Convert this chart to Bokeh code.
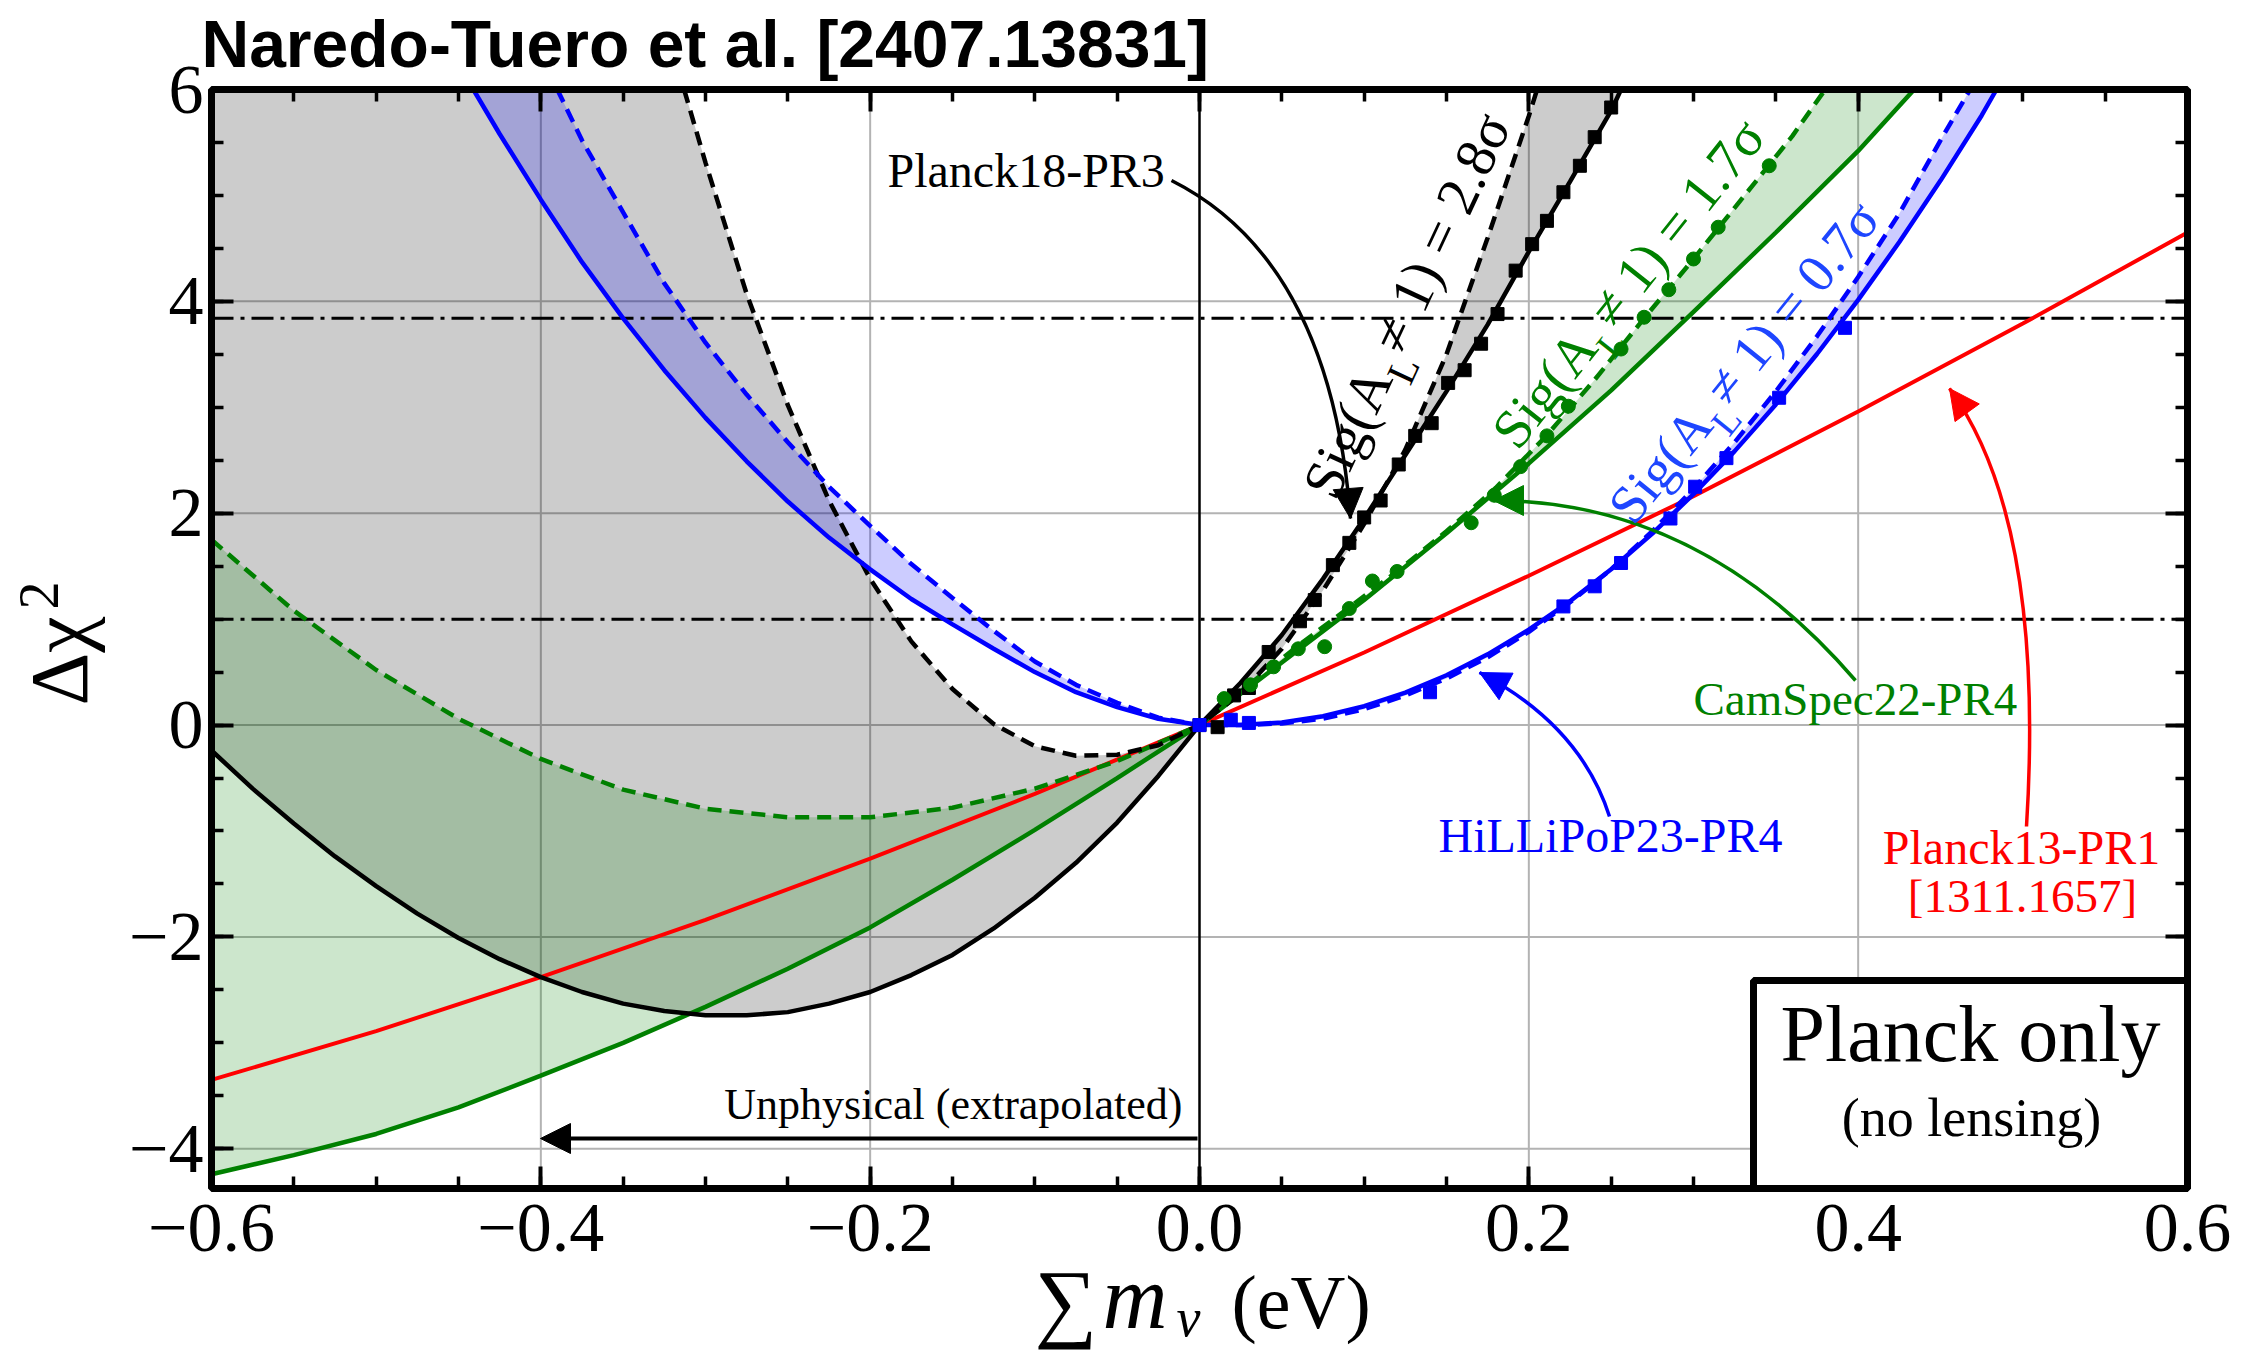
import math
from bokeh.plotting import figure
from bokeh.models import (Range1d, LinearAxis, FixedTicker, Label,
                          BoxAnnotation, Arrow, NormalHead)
from bokeh.embed import file_html
from bokeh.resources import INLINE

# ------------------------------------------------------------------ data
# Planck18-PR3 (black): solid = A_L = 1, dashed = A_L free
blk_sol_x = [-0.600, -0.575, -0.550, -0.525, -0.500, -0.475, -0.450, -0.425, -0.400, -0.375,
             -0.350, -0.325, -0.300, -0.275, -0.250, -0.225, -0.200, -0.175, -0.150, -0.125,
             -0.100, -0.075, -0.050, -0.025, 0.0, 0.025, 0.05, 0.075, 0.10, 0.125, 0.15,
             0.175, 0.20, 0.225, 0.25, 0.256]
blk_sol_y = [-0.24, -0.60, -0.93, -1.24, -1.52, -1.78, -2.01, -2.21, -2.38, -2.52,
             -2.63, -2.70, -2.74, -2.74, -2.71, -2.63, -2.52, -2.36, -2.17, -1.92,
             -1.63, -1.30, -0.92, -0.48, 0.0, 0.40, 0.85, 1.38, 1.95, 2.55, 3.15,
             3.78, 4.47, 5.13, 5.80, 6.0]
blk_dash_x = [-0.313, -0.300, -0.275, -0.250, -0.225, -0.200, -0.175, -0.150, -0.125, -0.100,
              -0.075, -0.050, -0.025, 0.0, 0.025, 0.05, 0.075, 0.10, 0.125, 0.15, 0.175,
              0.20, 0.205]
blk_dash_y = [6.0, 5.31, 4.07, 3.02, 2.12, 1.38, 0.79, 0.34, 0.01, -0.20,
              -0.29, -0.28, -0.19, 0.0, 0.30, 0.72, 1.27, 1.90, 2.60, 3.50, 4.60,
              5.75, 6.0]
blk_pts_x = [0.0, 0.011, 0.021, 0.030, 0.042, 0.061, 0.070, 0.081, 0.091, 0.100, 0.110,
             0.121, 0.131, 0.141, 0.151, 0.161, 0.171, 0.181, 0.192, 0.202, 0.211,
             0.221, 0.231, 0.240, 0.250]
blk_pts_y = [0.0, -0.02, 0.28, 0.35, 0.69, 0.98, 1.18, 1.51, 1.72, 1.96, 2.12,
             2.46, 2.73, 2.85, 3.23, 3.35, 3.60, 3.88, 4.29, 4.54, 4.76,
             5.03, 5.28, 5.55, 5.83]

# HiLLiPoP23-PR4 (blue)
blu_sol_x = [-0.441, -0.425, -0.400, -0.375, -0.350, -0.325, -0.300, -0.275, -0.250, -0.225,
             -0.200, -0.175, -0.150, -0.125, -0.100, -0.075, -0.050, -0.025, 0.0, 0.025,
             0.050, 0.075, 0.100, 0.125, 0.150, 0.175, 0.200, 0.225, 0.250, 0.275, 0.300,
             0.325, 0.350, 0.375, 0.400, 0.425, 0.450, 0.475, 0.484]
blu_sol_y = [6.0, 5.58, 4.96, 4.37, 3.84, 3.35, 2.90, 2.49, 2.11, 1.77,
             1.47, 1.19, 0.95, 0.72, 0.50, 0.31, 0.17, 0.06, 0.0, 0.0,
             0.025, 0.084, 0.178, 0.306, 0.470, 0.668, 0.901, 1.168, 1.471, 1.808, 2.180,
             2.586, 3.027, 3.503, 4.014, 4.560, 5.140, 5.755, 6.0]
blu_dash_x = [-0.390, -0.375, -0.350, -0.325, -0.300, -0.275, -0.250, -0.225, -0.200, -0.175,
              -0.150, -0.125, -0.100, -0.075, -0.050, -0.025, 0.0, 0.025, 0.050, 0.075,
              0.100, 0.125, 0.150, 0.175, 0.200, 0.225, 0.250, 0.275, 0.300, 0.325, 0.350,
              0.375, 0.400, 0.425, 0.450, 0.468]
blu_dash_y = [6.0, 5.52, 4.84, 4.17, 3.61, 3.12, 2.67, 2.25, 1.88, 1.52,
              1.20, 0.89, 0.60, 0.38, 0.21, 0.07, 0.0, 0.0, 0.015, 0.06,
              0.15, 0.28, 0.44, 0.64, 0.88, 1.16, 1.47, 1.83, 2.23, 2.67, 3.15,
              3.67, 4.23, 4.83, 5.52, 6.0]
blu_pts_x = [0.0, 0.019, 0.030, 0.140, 0.221, 0.240, 0.256, 0.286, 0.301, 0.320, 0.352, 0.392]
blu_pts_y = [0.0, 0.05, 0.02, 0.31, 1.12, 1.31, 1.53, 1.95, 2.25, 2.52, 3.09, 3.75]

# CamSpec22-PR4 (green)
grn_sol_x = [-0.60, -0.55, -0.50, -0.45, -0.40, -0.35, -0.30, -0.25, -0.20, -0.15, -0.10,
             -0.05, 0.0, 0.05, 0.10, 0.15, 0.20, 0.25, 0.30, 0.35, 0.40, 0.434]
grn_sol_y = [-4.24, -4.06, -3.86, -3.61, -3.31, -3.00, -2.66, -2.30, -1.91, -1.46, -0.99,
             -0.50, 0.0, 0.59, 1.18, 1.81, 2.47, 3.16, 3.90, 4.65, 5.42, 6.0]
grn_dash_x = [-0.60, -0.55, -0.50, -0.45, -0.40, -0.35, -0.30, -0.25, -0.20, -0.15, -0.10,
              -0.05, 0.0, 0.03, 0.06, 0.09, 0.12, 0.15, 0.18, 0.21, 0.24, 0.27, 0.30,
              0.33, 0.36, 0.38]
grn_dash_y = [1.75, 1.08, 0.52, 0.06, -0.32, -0.61, -0.79, -0.87, -0.87, -0.78, -0.60,
              -0.34, 0.0, 0.38, 0.75, 1.10, 1.45, 1.83, 2.24, 2.72, 3.26, 3.84, 4.40,
              4.98, 5.56, 6.0]
grn_pts_x = [0.015, 0.031, 0.045, 0.060, 0.076, 0.091, 0.105, 0.120, 0.165, 0.179, 0.195,
             0.211, 0.224, 0.256, 0.270, 0.285, 0.300, 0.315, 0.346]
grn_pts_y = [0.25, 0.38, 0.55, 0.72, 0.74, 1.10, 1.36, 1.45, 1.91, 2.17, 2.44,
             2.73, 3.01, 3.55, 3.85, 4.11, 4.40, 4.70, 5.28]

# Planck13-PR1 (red)
red_x = [-0.6, -0.5, -0.4, -0.3, -0.2, -0.1, 0.0, 0.1, 0.2, 0.3, 0.4, 0.5, 0.6]
red_y = [-3.35, -2.89, -2.38, -1.84, -1.26, -0.65, 0.0, 0.685, 1.41, 2.16, 2.96, 3.79, 4.65]

# reference levels (Delta chi^2 = 1 and 3.84)
cl_levels = [1.0, 3.84]

x_ticks = [-0.6, -0.4, -0.2, 0.0, 0.2, 0.4, 0.6]
x_tick_labels = ["\u22120.6", "\u22120.4", "\u22120.2", "0.0", "0.2", "0.4", "0.6"]
y_ticks = [-4, -2, 0, 2, 4, 6]
y_tick_labels = ["\u22124", "\u22122", "0", "2", "4", "6"]
x_grid = [-0.4, -0.2, 0.2, 0.4]
y_grid = [-4, -2, 0, 2, 4]
x_minor = [round(-0.6 + 0.05 * i, 2) for i in range(25)]
y_minor = [-4.0 + 0.5 * i for i in range(21)]

# ------------------------------------------------------------------ layout
W, H = 2249, 1353
FL, FR, FT, FB = 211, 2187, 89, 1188          # inner plot box in canvas pixels
XMIN, XMAX, YMIN, YMAX = -0.6, 0.6, -4.375, 6.0
SX = (FR - FL) / (XMAX - XMIN)
SY = (FB - FT) / (YMAX - YMIN)
XS, XE = XMIN - FL / SX, XMAX + (W - FR) / SX
YS, YE = YMIN - (H - FB) / SY, YMAX + FT / SY


def dx(px):
    return XS + px / SX


def dy(py):
    return YE - py / SY


SERIF = "Liberation Serif"
BLACK, BLUE, GREEN, RED = "#000000", "#0000ff", "#008000", "#ff0000"

p = figure(width=W, height=H, x_range=Range1d(XS, XE), y_range=Range1d(YS, YE),
           output_backend="svg", toolbar_location=None, title=None,
           min_border_left=0, min_border_right=0, min_border_top=0, min_border_bottom=0)
p.background_fill_color = "white"
p.border_fill_color = "white"
p.outline_line_color = None
p.xgrid.visible = False
p.ygrid.visible = False


def style_axis(ax, ticks, minor, labels, loc, bounds):
    ax.fixed_location = loc
    ax.bounds = bounds
    ax.ticker = FixedTicker(ticks=ticks, minor_ticks=minor)
    ax.axis_line_color = None
    ax.major_tick_in = 22
    ax.major_tick_out = 0
    ax.minor_tick_in = 12
    ax.minor_tick_out = 0
    ax.major_tick_line_width = 4
    ax.minor_tick_line_width = 3.5
    ax.major_tick_line_color = "black"
    ax.minor_tick_line_color = "black"
    ax.major_label_overrides = {t: l for t, l in zip(ticks, labels)}
    ax.major_label_text_font = SERIF
    ax.major_label_text_font_size = "70px"
    ax.major_label_text_color = "black"


style_axis(p.below[0], x_ticks, x_minor, x_tick_labels, YMIN, (XMIN, XMAX))
p.below[0].major_label_standoff = 16
style_axis(p.left[0], y_ticks, y_minor, y_tick_labels, XMIN, (YMIN, YMAX))
p.left[0].major_label_standoff = 8

top_ax = LinearAxis()
p.add_layout(top_ax, "above")
style_axis(top_ax, x_ticks, x_minor, ["" for _ in x_ticks], YMAX, (XMIN, XMAX))
right_ax = LinearAxis()
p.add_layout(right_ax, "right")
style_axis(right_ax, y_ticks, y_minor, ["" for _ in y_ticks], XMAX, (YMIN, YMAX))

# grid lines
p.segment(x0=x_grid, y0=[YMIN] * len(x_grid), x1=x_grid, y1=[YMAX] * len(x_grid),
          line_color="#b3b3b3", line_width=2)
p.segment(x0=[XMIN] * len(y_grid), y0=y_grid, x1=[XMAX] * len(y_grid), y1=y_grid,
          line_color="#b3b3b3", line_width=2)

# ------------------------------------------------------------------ bands
gray_x = [XMIN] + blk_sol_x + blk_dash_x[::-1] + [XMIN]
gray_y = [blk_sol_y[0]] + blk_sol_y + blk_dash_y[::-1] + [YMAX]
p.patch(gray_x, gray_y, fill_color=BLACK, fill_alpha=0.2, line_color=None)
p.patch(blu_sol_x + blu_dash_x[::-1], blu_sol_y + blu_dash_y[::-1],
        fill_color=BLUE, fill_alpha=0.2, line_color=None)
p.patch(grn_sol_x + grn_dash_x[::-1], grn_sol_y + grn_dash_y[::-1],
        fill_color=GREEN, fill_alpha=0.2, line_color=None)

# ------------------------------------------------------------------ reference lines
p.segment(x0=[0.0], y0=[YMIN], x1=[0.0], y1=[YMAX], line_color="black", line_width=2.5)
p.segment(x0=[XMIN] * len(cl_levels), y0=cl_levels, x1=[XMAX] * len(cl_levels), y1=cl_levels,
          line_color="black", line_width=3, line_dash="22 7 4 7")

# ------------------------------------------------------------------ curves
LW = 4.5
DASH = "14 8"
p.line(red_x, red_y, line_color=RED, line_width=4)
p.line(grn_sol_x, grn_sol_y, line_color=GREEN, line_width=LW)
p.line(grn_dash_x, grn_dash_y, line_color=GREEN, line_width=LW, line_dash=DASH)
p.line(blk_sol_x, blk_sol_y, line_color=BLACK, line_width=LW)
p.line(blk_dash_x, blk_dash_y, line_color=BLACK, line_width=LW, line_dash=DASH)
p.line(blu_sol_x, blu_sol_y, line_color=BLUE, line_width=LW)
p.line(blu_dash_x, blu_dash_y, line_color=BLUE, line_width=LW, line_dash=DASH)

p.scatter(blk_pts_x, blk_pts_y, marker="square", size=13, fill_color=BLACK, line_color=BLACK)
p.scatter(grn_pts_x, grn_pts_y, marker="circle", size=14, fill_color=GREEN, line_color=GREEN)
p.scatter(blu_pts_x, blu_pts_y, marker="square", size=13, fill_color=BLUE, line_color=BLUE)

# frame box
p.add_layout(BoxAnnotation(left=XMIN, right=XMAX, bottom=YMIN, top=YMAX, fill_alpha=0.0,
                           fill_color=None, line_color="black", line_alpha=1.0,
                           line_width=7))

# ------------------------------------------------------------------ annotations
BASE_SHIFT = 0.35   # svg text sits lower than the alphabetic baseline; compensate


def label(px, py, text, size, color="black", align="left", font=SERIF, style="normal",
          angle=0.0):
    px = px - BASE_SHIFT * size * math.sin(angle)
    py = py - BASE_SHIFT * size * math.cos(angle)
    p.add_layout(Label(x=dx(px), y=dy(py), text=text, text_font=font,
                       text_font_size=f"{size}px", text_color=color, text_align=align,
                       text_baseline="alphabetic", text_font_style=style, angle=angle))


def curved_arrow(p0, c, p2, color, lw=3.5):
    p.quadratic(x0=[dx(p0[0])], y0=[dy(p0[1])], x1=[dx(p2[0])], y1=[dy(p2[1])],
                cx=[dx(c[0])], cy=[dy(c[1])], line_color=color, line_width=lw)
    vx, vy = p2[0] - c[0], p2[1] - c[1]
    n = math.hypot(vx, vy)
    sx, sy = p2[0] - 10 * vx / n, p2[1] - 10 * vy / n
    p.add_layout(Arrow(end=NormalHead(size=30, fill_color=color, line_color=color,
                                      line_width=1),
                       x_start=dx(sx), y_start=dy(sy), x_end=dx(p2[0]), y_end=dy(p2[1]),
                       line_color=color, line_width=lw))


WID = {'S': 0.556, 'i': 0.278, 'g': 0.5, '(': 0.333, 'A': 0.722, 'L': 0.611, ' ': 0.25,
       '\u2260': 0.564, '1': 0.5, ')': 0.333, '=': 0.564, '2': 0.5, '.': 0.25, '8': 0.5,
       '7': 0.5, '0': 0.5, '\u03c3': 0.55}


def tw(s, size):
    return sum(WID.get(ch, 0.5) for ch in s) * size


def sig_label(x0, y0, ang_deg, value, color, size=55):
    th = math.radians(ang_deg)
    c, s = math.cos(th), math.sin(th)
    sub = round(size * 0.7)
    pieces = [("Sig(A", size, 0.0), ("L", sub, 0.22 * size),
              (" \u2260 1) = " + value + "\u03c3", size, 0.0)]
    d = 0.0
    for txt, sz, off in pieces:
        px = x0 + d * c + off * s
        py = y0 - d * s + off * c
        corr = BASE_SHIFT * (size - sz)
        px += corr * s
        py += corr * c
        label(px, py, txt, sz, color=color, angle=th)
        d += tw(txt, sz)


# title
label(201, 67, "Naredo-Tuero et al. [2407.13831]", 66, font="Liberation Sans", style="bold")

# Planck18-PR3
label(887, 187, "Planck18-PR3", 48)
curved_arrow((1171, 180), (1330, 260), (1350, 518), BLACK)
sig_label(1336, 502, 65, "2.8", BLACK, size=57)

# CamSpec22-PR4
label(1693, 715, "CamSpec22-PR4", 47, color=GREEN)
curved_arrow((1855, 680), (1700, 500), (1493, 500), GREEN)
sig_label(1518, 452, 51.5, "1.7", GREEN, size=55)

# HiLLiPoP23-PR4
label(1438, 852, "HiLLiPoP23-PR4", 48, color=BLUE)
curved_arrow((1609, 816), (1580, 725), (1479, 672), BLUE)
sig_label(1634, 527, 51, "0.7", "#1e46ff", size=54)

# Planck13-PR1
label(2021, 864, "Planck13-PR1", 48, color=RED, align="center")
label(2022, 912, "[1311.1657]", 47, color=RED, align="center")
curved_arrow((2026, 826), (2045, 520), (1949, 388), RED)

# Unphysical
label(1182, 1119, "Unphysical (extrapolated)", 44, align="right")
p.add_layout(Arrow(end=NormalHead(size=30, fill_color="black", line_color="black",
                                  line_width=1),
                   x_start=dx(1197), y_start=dy(1138), x_end=dx(540), y_end=dy(1138),
                   line_color="black", line_width=4))

# Planck only box
p.add_layout(BoxAnnotation(left=dx(1753), right=XMAX, top=dy(980), bottom=YMIN,
                           fill_color="white", fill_alpha=1.0, line_color="black",
                           line_width=7, line_alpha=1.0))
label(1970, 1061, "Planck only", 80, align="center")
label(1971, 1136, "(no lensing)", 54, align="center")

# axis labels built from pieces
label(1034, 1332, "\u2211", 88)
label(1102, 1328, "m", 90, style="italic")
label(1176, 1336, "\u03bd", 54, style="italic")
label(1231, 1328, "(eV)", 76)

label(88, 705, "\u0394\u03c7", 82, angle=math.pi / 2)
label(58, 609, "2", 56, angle=math.pi / 2)

open("out.html", "w").write(file_html(p, INLINE))
